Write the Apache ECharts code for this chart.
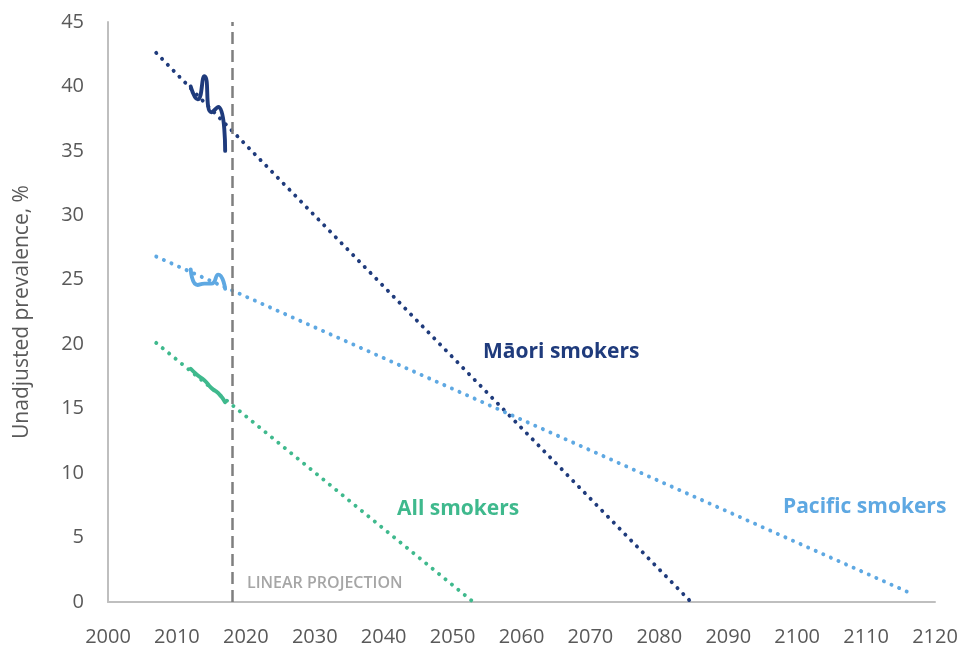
<!DOCTYPE html>
<html>
<head>
<meta charset="utf-8">
<script src="https://cdn.jsdelivr.net/npm/echarts@6/dist/echarts.min.js"></script>
<style>html,body{margin:0;padding:0;background:#fff;}#c{width:965px;height:648px;}</style>
</head>
<body>
<div id="c"></div>
<script>
// Survey years (observed data)
const years = [2012, 2013, 2014, 2015, 2016, 2017];
// Observed unadjusted prevalence, %
const maoriObserved   = [40.0, 39.0, 40.8, 38.0, 38.4, 35.0];
const pacificObserved = [25.8, 24.6, 24.7, 24.7, 25.4, 24.3];
const allObserved     = [18.1, 17.6, 17.2, 16.6, 16.2, 15.5];
// Linear projection end points: [year, value]
const maoriTrend   = [[2007, 42.6], [2084.6, 0]];
const pacificTrend = [[2007, 26.8], [2116.8, 0.6]];
const allTrend     = [[2007, 20.1], [2053.0, 0]];
const projectionStartYear = 2018;
// Axis ticks
const xTicks = {min: 2000, max: 2120, interval: 10};
const yTicks = {min: 0, max: 45, interval: 5};

const C_MAORI = '#1f3b7c', C_PACIFIC = '#5ea8e2', C_ALL = '#3fb98d';
const FONT = '"Open Sans", "Noto Sans", sans-serif';

function obs(vals) { return years.map((y, i) => [y, vals[i]]); }
function trendSeries(data, color) {
  return {
    type: 'line', data: data, symbol: 'none', silent: true, z: 2,
    lineStyle: {color: color, width: 3.9, type: [0.1, 8.2], cap: 'round'}
  };
}
function obsSeries(vals, color) {
  return {
    type: 'line', data: obs(vals), symbol: 'none', smooth: 0.6, silent: true, z: 3,
    lineStyle: {color: color, width: 3.9, cap: 'round', join: 'round'}
  };
}

const chart = echarts.init(document.getElementById('c'), null, {renderer: 'canvas'});
chart.setOption({
  animation: false,
  backgroundColor: '#ffffff',
  grid: {left: 108, right: 30, top: 22, bottom: 46, containLabel: false},
  xAxis: {
    type: 'value', min: xTicks.min, max: xTicks.max, interval: xTicks.interval,
    axisLine: {show: true, lineStyle: {color: '#bfbfbf', width: 2}},
    axisTick: {show: false}, splitLine: {show: false},
    axisLabel: {color: '#595959', fontSize: 20, fontFamily: FONT, margin: 25,
                formatter: v => String(v)}
  },
  yAxis: {
    type: 'value', min: yTicks.min, max: yTicks.max, interval: yTicks.interval,
    name: 'Unadjusted prevalence, %', nameLocation: 'middle', nameGap: 75,
    nameTextStyle: {color: '#595959', fontSize: 21, fontFamily: FONT},
    axisLine: {show: true, lineStyle: {color: '#bfbfbf', width: 2}},
    axisTick: {show: false}, splitLine: {show: false},
    axisLabel: {color: '#595959', fontSize: 20, fontFamily: FONT, margin: 24}
  },
  series: [
    Object.assign(trendSeries(maoriTrend, C_MAORI), {
      markLine: {
        silent: true, symbol: 'none', label: {show: false},
        lineStyle: {color: '#7f7f7f', width: 2.5, type: [12, 6]},
        data: [{xAxis: projectionStartYear}]
      }
    }),
    trendSeries(pacificTrend, C_PACIFIC),
    trendSeries(allTrend, C_ALL),
    obsSeries(maoriObserved, C_MAORI),
    obsSeries(pacificObserved, C_PACIFIC),
    obsSeries(allObserved, C_ALL)
  ],
  graphic: [
    {type: 'text', left: 483, top: 342, silent: true,
     style: {text: 'Māori smokers', fill: C_MAORI, font: 'bold 21px ' + FONT}},
    {type: 'text', left: 783, top: 497, silent: true,
     style: {text: 'Pacific smokers', fill: C_PACIFIC, font: 'bold 21px ' + FONT}},
    {type: 'text', left: 397, top: 499, silent: true,
     style: {text: 'All smokers', fill: C_ALL, font: 'bold 21px ' + FONT}},
    {type: 'text', left: 247, top: 575, silent: true,
     style: {text: 'LINEAR PROJECTION', fill: '#a6a6a6', font: '600 16px ' + FONT}}
  ]
});
</script>
</body>
</html>
